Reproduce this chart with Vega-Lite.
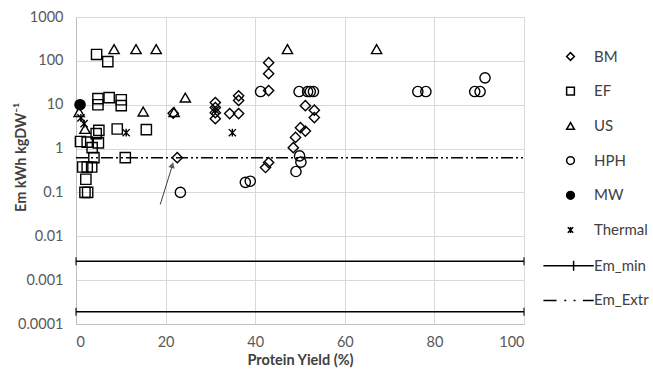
{
  "$schema": "https://vega.github.io/schema/vega-lite/v6.json",
  "width": 448,
  "height": 307,
  "autosize": {"type": "none"},
  "padding": {"left": 76, "top": 17, "right": 129, "bottom": 50},
  "background": "white",
  "config": {
    "font": "Lato",
    "view": {"stroke": null},
    "axis": {
      "grid": true,
      "gridColor": "#d9d9d9",
      "gridWidth": 1,
      "ticks": false,
      "domainColor": "#bfbfbf",
      "domainWidth": 1,
      "labelColor": "#595959",
      "labelFontSize": 14.5,
      "labelFont": "Lato",
      "titleFont": "Lato",
      "titleFontSize": 14.5,
      "titleFontWeight": "bold",
      "titleColor": "#404040"
    }
  },
  "datasets": {
    "pts": [
      {"series": "BM", "x": 22.6, "y": 0.62},
      {"series": "BM", "x": 21.7, "y": 6.4},
      {"series": "BM", "x": 31.1, "y": 11.2},
      {"series": "BM", "x": 31.1, "y": 8.6},
      {"series": "BM", "x": 31.1, "y": 6.6},
      {"series": "BM", "x": 31.1, "y": 4.8},
      {"series": "BM", "x": 34.3, "y": 6.3},
      {"series": "BM", "x": 36.3, "y": 6.3},
      {"series": "BM", "x": 36.3, "y": 16},
      {"series": "BM", "x": 36.3, "y": 12.5},
      {"series": "BM", "x": 43, "y": 91},
      {"series": "BM", "x": 43, "y": 51},
      {"series": "BM", "x": 43, "y": 21},
      {"series": "BM", "x": 42.3, "y": 0.37},
      {"series": "BM", "x": 43, "y": 0.48},
      {"series": "BM", "x": 48.5, "y": 1.05},
      {"series": "BM", "x": 49, "y": 1.8},
      {"series": "BM", "x": 50.1, "y": 3.0},
      {"series": "BM", "x": 51.2, "y": 2.5},
      {"series": "BM", "x": 51.2, "y": 9.5},
      {"series": "BM", "x": 53.2, "y": 7.5},
      {"series": "BM", "x": 53.2, "y": 5.1},
      {"series": "EF", "x": 4.6, "y": 140},
      {"series": "EF", "x": 7.1, "y": 96},
      {"series": "EF", "x": 4.9, "y": 13.8},
      {"series": "EF", "x": 4.9, "y": 10},
      {"series": "EF", "x": 7.4, "y": 14.5},
      {"series": "EF", "x": 10.1, "y": 13},
      {"series": "EF", "x": 10.1, "y": 9.5},
      {"series": "EF", "x": 5.1, "y": 2.6},
      {"series": "EF", "x": 9.2, "y": 2.8},
      {"series": "EF", "x": 15.7, "y": 2.7},
      {"series": "EF", "x": 1.0, "y": 1.45},
      {"series": "EF", "x": 2.5, "y": 1.4},
      {"series": "EF", "x": 4.5, "y": 2.2},
      {"series": "EF", "x": 5.0, "y": 1.35},
      {"series": "EF", "x": 3.6, "y": 1.05},
      {"series": "EF", "x": 4.0, "y": 0.62},
      {"series": "EF", "x": 11.0, "y": 0.62},
      {"series": "EF", "x": 1.5, "y": 0.38},
      {"series": "EF", "x": 2.5, "y": 0.38},
      {"series": "EF", "x": 3.5, "y": 0.38},
      {"series": "EF", "x": 2.2, "y": 0.2},
      {"series": "EF", "x": 2.0, "y": 0.1},
      {"series": "EF", "x": 2.6, "y": 0.1},
      {"series": "US", "x": 8.5, "y": 185},
      {"series": "US", "x": 13.4, "y": 185},
      {"series": "US", "x": 17.9, "y": 185},
      {"series": "US", "x": 47.2, "y": 185},
      {"series": "US", "x": 67.1, "y": 185},
      {"series": "US", "x": 24.4, "y": 14.5},
      {"series": "US", "x": 15, "y": 7},
      {"series": "US", "x": 21.9, "y": 6.8},
      {"series": "US", "x": 0.7, "y": 6.8},
      {"series": "US", "x": 2.0, "y": 2.8},
      {"series": "HPH", "x": 23.3, "y": 0.1},
      {"series": "HPH", "x": 37.8, "y": 0.17},
      {"series": "HPH", "x": 38.9, "y": 0.18},
      {"series": "HPH", "x": 41.2, "y": 20},
      {"series": "HPH", "x": 49.8, "y": 20},
      {"series": "HPH", "x": 51.7, "y": 20},
      {"series": "HPH", "x": 52.3, "y": 20},
      {"series": "HPH", "x": 53.0, "y": 20},
      {"series": "HPH", "x": 49.9, "y": 0.68},
      {"series": "HPH", "x": 50.2, "y": 0.49},
      {"series": "HPH", "x": 49.1, "y": 0.3},
      {"series": "HPH", "x": 76.3, "y": 20},
      {"series": "HPH", "x": 78.1, "y": 20},
      {"series": "HPH", "x": 89, "y": 20},
      {"series": "HPH", "x": 90.2, "y": 20},
      {"series": "HPH", "x": 91.3, "y": 41},
      {"series": "MW", "x": 0.9, "y": 10},
      {"series": "Thermal", "x": 1.1, "y": 5},
      {"series": "Thermal", "x": 1.8, "y": 3.7},
      {"series": "Thermal", "x": 11.2, "y": 2.3},
      {"series": "Thermal", "x": 34.9, "y": 2.3},
      {"series": "Thermal", "x": 31.1, "y": 7.5}
    ],
    "emmin": [
      {"level": "a", "x": 0, "y": 0.0027},
      {"level": "a", "x": 100, "y": 0.0027},
      {"level": "b", "x": 0, "y": 0.00019},
      {"level": "b", "x": 100, "y": 0.00019}
    ],
    "emextr": [
      {"x": 0, "y": 0.62},
      {"x": 100, "y": 0.62}
    ],
    "arrow": [
      {"x": 18.8, "y": 0.053, "x2": 21.4, "y2": 0.38}
    ],
    "arrowhead": [
      {"x": 21.5, "y": 0.42}
    ]
  },
  "layer": [
    {
      "data": {"name": "emextr"},
      "mark": {"type": "line", "stroke": "black", "strokeWidth": 1.5, "strokeDash": [12, 3, 2, 3, 2, 3]},
      "encoding": {
        "x": {
          "field": "x", "type": "quantitative",
          "scale": {"domain": [0, 100], "nice": false, "zero": false},
          "axis": {"values": [0, 20, 40, 60, 80, 100], "title": "Protein Yield (%)", "labelPadding": 11, "titleY": 36, "titleBaseline": "middle"}
        },
        "y": {
          "field": "y", "type": "quantitative",
          "scale": {"type": "log", "domain": [0.0001, 1000], "nice": false},
          "axis": {"values": [0.0001, 0.001, 0.01, 0.1, 1, 10, 100, 1000], "format": "~g", "title": "Em kWh kgDW⁻¹", "labelPadding": 13, "titleX": -55, "titleY": 140, "titleBaseline": "middle"}
        }
      }
    },
    {
      "data": {"name": "emmin"},
      "mark": {"type": "line", "stroke": "black", "strokeWidth": 1.5},
      "encoding": {
        "x": {"field": "x", "type": "quantitative"},
        "y": {"field": "y", "type": "quantitative"},
        "detail": {"field": "level", "type": "nominal"}
      }
    },
    {
      "data": {"name": "emmin"},
      "mark": {"type": "point", "shape": "M0,-1V1", "size": 64, "stroke": "black", "strokeWidth": 1.5, "filled": false},
      "encoding": {
        "x": {"field": "x", "type": "quantitative"},
        "y": {"field": "y", "type": "quantitative"}
      }
    },
    {
      "data": {"name": "arrow"},
      "mark": {"type": "rule", "stroke": "#404040", "strokeWidth": 1},
      "encoding": {
        "x": {"field": "x", "type": "quantitative"},
        "y": {"field": "y", "type": "quantitative"},
        "x2": {"field": "x2"},
        "y2": {"field": "y2"}
      }
    },
    {
      "data": {"name": "arrowhead"},
      "mark": {"type": "point", "shape": "triangle-up", "size": 45, "filled": true, "fill": "#202020", "stroke": null, "angle": 17},
      "encoding": {
        "x": {"field": "x", "type": "quantitative"},
        "y": {"field": "y", "type": "quantitative"}
      }
    },
    {
      "data": {"name": "pts"},
      "mark": {"type": "point", "size": 105, "stroke": "black", "strokeWidth": 1.4, "opacity": 1},
      "encoding": {
        "x": {"field": "x", "type": "quantitative"},
        "y": {"field": "y", "type": "quantitative"},
        "shape": {
          "field": "series", "type": "nominal",
          "scale": {
            "domain": ["BM", "EF", "US", "HPH", "MW", "Thermal", "Em_min", "Em_Extr"],
            "range": ["diamond", "square", "triangle-up", "circle", "circle", "M-0.7,-0.7L0.7,0.7M0.7,-0.7L-0.7,0.7M0,-0.75V0.75", "M-7,0H6M0.8,-1.3V1.3", "M-7,0H-3.6M-1.6,0H-1.1M0.8,0H1.3M3.2,0H6"]
          },
          "legend": {"title": null, "orient": "none", "legendX": 487, "legendY": 32, "padding": 0, "symbolSize": 60, "labelOffset": 16, "rowPadding": 18.7, "labelFontSize": 15, "labelColor": "#404040", "labelFont": "Lato", "encode": {"symbols": {"update": {"stroke": {"value": "black"}, "strokeWidth": {"value": 1.5}, "opacity": {"value": 1}}}}}
        },
        "fill": {
          "field": "series", "type": "nominal",
          "scale": {
            "domain": ["BM", "EF", "US", "HPH", "MW", "Thermal", "Em_min", "Em_Extr"],
            "range": ["transparent", "transparent", "transparent", "transparent", "black", "transparent", "transparent", "transparent"]
          },
          "legend": {"title": null, "orient": "none", "legendX": 487, "legendY": 32, "padding": 0, "symbolSize": 60, "labelOffset": 16, "rowPadding": 18.7, "labelFontSize": 15, "labelColor": "#404040", "labelFont": "Lato", "encode": {"symbols": {"update": {"stroke": {"value": "black"}, "strokeWidth": {"value": 1.5}, "opacity": {"value": 1}}}}}
        }
      }
    }
  ]
}
